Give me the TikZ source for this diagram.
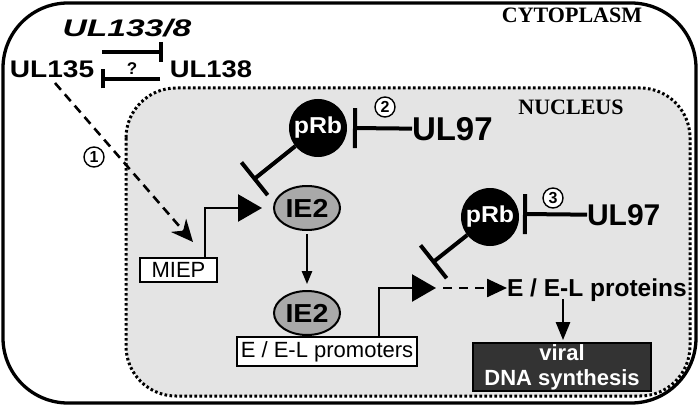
\documentclass[tikz,border=0pt]{standalone}
\usepackage{fontspec}
\setmainfont{Liberation Sans}
\newfontfamily\serifbf{Liberation Serif}
\usetikzlibrary{arrows.meta,shapes.geometric}
\definecolor{nucgray}{HTML}{E4E4E4}
\definecolor{iegray}{HTML}{A9A9A9}
\definecolor{dnagray}{HTML}{333333}
\begin{document}
\begin{tikzpicture}[x=1pt,y=-1pt,
  every node/.style={inner sep=0pt, outer sep=0pt},
  bf/.style={font=\fontsize{#1}{#1}\selectfont\bfseries},
  rg/.style={font=\fontsize{#1}{#1}\selectfont},
  serif/.style={font=\fontsize{22}{22}\selectfont\serifbf\bfseries},
  inh/.style={line width=4pt, -{Bar[width=#1]}},
  inh/.default=40pt,
  prom/.style={line width=2.5pt, -{Triangle[length=24pt,width=27pt]}},
  thinarrow/.style={line width=1.5pt, -{Triangle[length=#1,width=0.8*#1]}},
  num/.style={circle, draw, fill=white, line width=1.4pt, minimum size=20pt, bf=16},
  prb/.style={circle, fill=black, minimum size=58pt, text=white, bf=23},
  ie/.style={ellipse, draw, line width=2pt, fill=iegray, minimum width=66pt, minimum height=44pt, bf=26},
  wbox/.style={draw, line width=2.5pt, fill=white, rg=22},
  dashline/.style={line width=2.6pt, dash pattern=on 9pt off 6pt}
]
\useasboundingbox (0,0) rectangle (700,406);
% cell and nucleus
\draw[line width=3.3pt, rounded corners=65pt] (3,3) rectangle (696,403);
\draw[fill=nucgray, line width=3pt, dash pattern=on 2.6pt off 2.4pt, rounded corners=50pt] (126,88) rectangle (690,396);
\node[serif, anchor=base] (cyto) at (572,23) {CYTOPLASM};
\node[serif, anchor=base] (nuc) at (571,115) {NUCLEUS};
% UL133/8 locus
\node[bf=24, anchor=base] (ul1338) at (127,37) {\scalebox{1.4}[1]{\itshape UL133/8}};
\node[bf=24, anchor=base] (ul135) at (52,78) {\scalebox{1.17}[1]{UL135}};
\node[bf=24, anchor=base] (ul138) at (211,78) {\scalebox{1.14}[1]{UL138}};
\node[bf=17, anchor=base] (q) at (132,75) {?};
\coordinate (b1s) at (102,52); \coordinate (b1e) at (163,52);
\coordinate (b2s) at (160,79); \coordinate (b2e) at (101,79);
\draw[inh=20pt] (b1s) -- (b1e);
\draw[inh=19pt] (b2s) -- (b2e);
% MIEP and IE2
\node[wbox, minimum width=77pt, minimum height=24pt] (miep) at (178.5,270) {MIEP};
\coordinate (a1s) at (55,83);
\coordinate (miepin) at (193,242);
\draw[dashline, -{Stealth[length=22pt,width=20pt,inset=7pt]}] (a1s) -- (miepin);
\node[num] (n1) at (94,157) {1};
\node[ie] (ie2a) at (307,208) {\scalebox{1.1}[1]{IE2}};
\coordinate (p1) at (205,208); \coordinate (p1tip) at (262,208);
\draw[prom] (miep.north -| p1) -- (p1) -- (p1tip);
% pRb 1
\node[prb] (prb1) at (318,128) {\scalebox{1.08}[1]{pRb}};
\coordinate (ie2bar) at (253,180);
\draw[inh=42pt] (prb1) -- (ie2bar);
\node[bf=33, anchor=base west] (ul97a) at (412,140) {UL97};
\coordinate (prb1bar) at (353,128);
\draw[inh=40pt] (ul97a.west) -- (prb1bar);
\node[num] (n2) at (385,107) {2};
% IE2 on E/E-L promoters
\node[ie] (ie2b) at (307,313) {\scalebox{1.1}[1]{IE2}};
\node[wbox, minimum width=180pt, minimum height=29pt] (promo) at (327,351.5) {E / E-L promoters};
\draw[thinarrow=13pt, shorten <=4pt, shorten >=7pt] (ie2a) -- (ie2b);
\coordinate (p2) at (379,288); \coordinate (p2tip) at (436,288);
\draw[prom] (promo.north -| p2) -- (p2) -- (p2tip);
\node[bf=24.5, anchor=base west] (prot) at (507,296) {E / E-L proteins};
\coordinate (p3s) at (443,288);
\draw[line width=2.5pt, dash pattern=on 9pt off 7pt, -{Triangle[length=20pt,width=18pt]}] (p3s) -- (prot.west |- p2);
% pRb 2
\node[prb] (prb2) at (490,217) {\scalebox{1.08}[1]{pRb}};
\coordinate (prb2bar) at (432,263);
\draw[inh=42pt] (prb2) -- (prb2bar);
\node[bf=30, anchor=base west] (ul97b) at (587,225) {UL97};
\coordinate (prb2ubar) at (523,214);
\draw[inh=40pt] (ul97b.west) -- (prb2ubar);
\node[num] (n3) at (553,198) {3};
% viral DNA synthesis
\node[draw, line width=2pt, fill=dnagray, text=white, font=\fontsize{22}{25}\selectfont\bfseries, align=center, minimum width=178pt, minimum height=48pt] (viral) at (562,367) {viral\\DNA synthesis};
\coordinate (d1) at (563,299);
\draw[thinarrow=18pt, shorten >=3pt] (d1) -- (viral.north -| d1);
\end{tikzpicture}
\end{document}
